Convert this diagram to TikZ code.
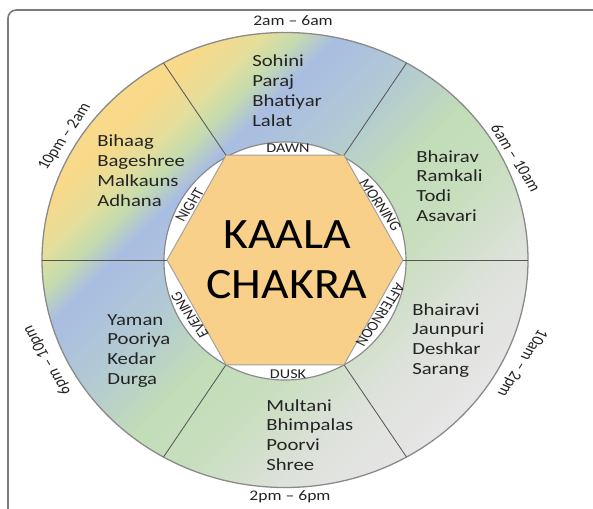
\documentclass[tikz,border=0pt]{standalone}
\usepackage{fontspec}
\setmainfont{Carlito}
\definecolor{cY}{HTML}{F9D98A}
\definecolor{cYG}{HTML}{E4DE9C}
\definecolor{cGa}{HTML}{C6DCAE}
\definecolor{cB}{HTML}{A9BDE2}
\definecolor{cBG}{HTML}{B2C9D4}
\definecolor{cGb}{HTML}{C2DDB8}
\definecolor{cGc}{HTML}{C8DEBE}
\definecolor{cGr}{HTML}{DEE2DC}
\definecolor{cGs}{HTML}{E6E6E6}
\definecolor{cGt}{HTML}{EEEEEE}
\definecolor{hexfill}{HTML}{F9D08A}
\definecolor{ringline}{HTML}{8A8A8A}
\definecolor{divline}{HTML}{555555}
\definecolor{ragacol}{HTML}{242424}
\definecolor{framecol}{HTML}{7A7A7A}
\begin{document}
\begin{tikzpicture}[x=0.03cm,y=-0.03cm,
  raga/.style={font=\fontsize{14.5}{17}\selectfont, inner sep=0pt, text=ragacol, anchor=base west, xscale=1.22},
  timelbl/.style={font=\fontsize{12.5}{14}\selectfont, inner sep=0pt, text=ragacol, xscale=1.2},
  bandlbl/.style={font=\fontsize{11.5}{13}\selectfont, inner sep=0pt, text=ragacol, xscale=1.2},
  title/.style={font=\fontsize{37}{42}\selectfont, inner sep=0pt, text=black, anchor=base, xscale=1.1},
  divider/.style={draw=divline, line width=0.7pt}]
\useasboundingbox (0,0) rectangle (593,509);
\fill[white] (0,0) rectangle (593,509);

% outer frame
\draw[framecol, line width=1.4pt, rounded corners=7] (8,515) -- (8,10) -- (600,10);

% ring with diagonal colour gradient
\begin{scope}
  \clip (285,260) ellipse [x radius=243, y radius=227.5];
  \foreach \ta/\tb/\ca/\cb in {0/250/cY/cY, 250/300/cY/cYG, 300/335/cYG/cGa, 335/375/cGa/cB,
      375/470/cB/cBG, 470/570/cBG/cGb, 570/660/cGb/cGc, 660/770/cGc/cGr, 770/880/cGr/cGs, 880/1100/cGs/cGt}{
    \foreach \i in {0,...,19}{
      \pgfmathsetmacro\s{\ta+(\tb-\ta)*\i/20}
      \pgfmathsetmacro\e{\ta+(\tb-\ta)*(\i+1)/20+1.5}
      \pgfmathsetmacro\p{100*(\i+0.5)/20}
      \fill[fill=\cb!\p!\ca] (\s,0) -- (\e,0) -- (\e-600,600) -- (\s-600,600) -- cycle;
    }
  }
\end{scope}
\draw[ringline, line width=1.1pt] (285,260) ellipse [x radius=243, y radius=227.5];

% inner white disc
\filldraw[fill=white, draw=ringline, line width=1pt] (285,261) ellipse [x radius=121, y radius=119];

% hexagon corners and ring points
\foreach \k in {0,...,5}{
  \coordinate (h\k) at ({285+118*cos(60*\k)},{260-121*sin(60*\k)});
  \coordinate (o\k) at ({285+243*cos(60*\k)},{260-227.5*sin(60*\k)});
}
\foreach \k in {0,...,5}{
  \draw[divider] (h\k) -- (o\k);
}
\filldraw[fill=hexfill, draw=gray!75, line width=0.8pt] (h0) -- (h1) -- (h2) -- (h3) -- (h4) -- (h5) -- cycle;

% centre title
\node[title] (kaala) at (287,248) {KAALA};
\node[title] (chakra) at (287,298) {CHAKRA};

% band labels
\node[bandlbl] (dawn) at (288,148) {DAWN};
\node[bandlbl, rotate=-60] (morning) at ({285+110*cos(30)},{260-110*sin(30)}) {MORNING};
\node[bandlbl, rotate=-120] (afternoon) at ({285+110*cos(-30)},{260-110*sin(-30)}) {AFTERNOON};
\node[bandlbl] (dusk) at (288,374) {DUSK};
\node[bandlbl, rotate=120] (evening) at ({285+110*cos(210)},{260-110*sin(210)}) {EVENING};
\node[bandlbl, rotate=60] (night) at ({285+110*cos(150)},{260-110*sin(150)}) {NIGHT};

% time labels
\node[timelbl] (t1) at (293,21) {2am – 6am};
\node[timelbl, rotate=-62] (t2) at (516,158) {6am – 10am};
\node[timelbl, rotate=-118] (t3) at (522,363) {10am – 2pm};
\node[timelbl] (t4) at (290,497) {2pm – 6pm};
\node[timelbl, rotate=116] (t5) at (47,360) {6pm – 10pm};
\node[timelbl, rotate=60] (t6) at (65,137) {10pm – 2am};

% raga lists
\foreach \nm [count=\i] in {Sohini,Paraj,Bhatiyar,Lalat}
  \node[raga] (dawn-\i) at (252,{67+19.8*(\i-1)}) {\nm};
\foreach \nm [count=\i] in {Bhairav,Ramkali,Todi,Asavari}
  \node[raga] (morn-\i) at (416,{162+19.8*(\i-1)}) {\nm};
\foreach \nm [count=\i] in {Bhairavi,Jaunpuri,Deshkar,Sarang}
  \node[raga] (aft-\i) at (412,{315+19.8*(\i-1)}) {\nm};
\foreach \nm [count=\i] in {Multani,Bhimpalas,Poorvi,Shree}
  \node[raga] (dusk-\i) at (266,{411+19.8*(\i-1)}) {\nm};
\foreach \nm [count=\i] in {Yaman,Pooriya,Kedar,Durga}
  \node[raga] (eve-\i) at (107,{325+19.8*(\i-1)}) {\nm};
\foreach \nm [count=\i] in {Bihaag,Bageshree,Malkauns,Adhana}
  \node[raga] (night-\i) at (97,{147+19.8*(\i-1)}) {\nm};
\end{tikzpicture}
\end{document}
